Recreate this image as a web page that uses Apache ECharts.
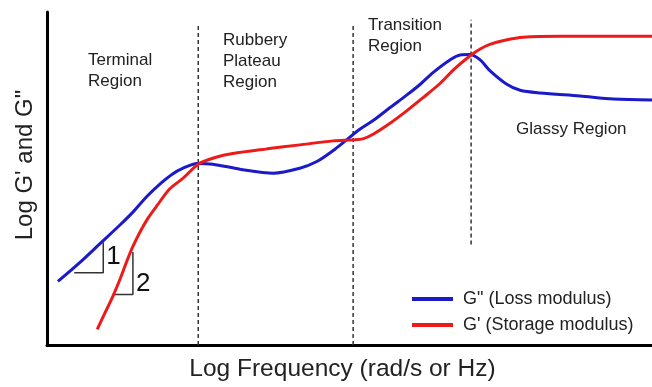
<!DOCTYPE html>
<html>
<head>
<meta charset="utf-8">
<script src="https://cdn.jsdelivr.net/npm/echarts@6/dist/echarts.min.js"></script>
<style>
  html, body { margin: 0; padding: 0; background: #fff; }
  #chart { width: 652px; height: 387px; }
</style>
</head>
<body>
<div id="chart"></div>
<script>
// Log frequency on x, log modulus on y (arbitrary decades)
const lossFreq = [0.18, 0.55, 0.88, 1.21, 1.42, 1.65, 1.87, 2.07, 2.25, 2.48, 2.74, 3.19, 3.74, 4.18, 4.46,
  4.73, 4.93, 5.17, 5.39, 5.67, 5.95, 6.17, 6.38, 6.66, 6.83, 6.99, 7.16, 7.32, 7.60, 7.82, 8.15, 8.81, 9.36, 10.0];
const lossModulus = [1.91, 2.49, 3.05, 3.61, 3.99, 4.46, 4.84, 5.13, 5.31, 5.45, 5.43, 5.28, 5.16, 5.31, 5.51,
  5.84, 6.13, 6.48, 6.74, 7.13, 7.51, 7.83, 8.18, 8.56, 8.71, 8.72, 8.56, 8.24, 7.83, 7.65, 7.57, 7.48, 7.39, 7.36];

const storageFreq = [0.83, 0.96, 1.09, 1.21, 1.32, 1.42, 1.54, 1.67, 1.82, 2.03, 2.25, 2.50, 2.78, 3.07, 3.64,
  4.18, 4.73, 5.06, 5.22, 5.39, 5.67, 5.95, 6.21, 6.50, 6.74, 6.99, 7.16, 7.32, 7.57, 7.87, 8.48, 10.0];
const storageModulus = [0.47, 0.97, 1.47, 1.99, 2.52, 2.96, 3.40, 3.81, 4.19, 4.69, 5.01, 5.43, 5.63, 5.75, 5.89,
  6.01, 6.13, 6.16, 6.19, 6.33, 6.66, 7.04, 7.42, 7.86, 8.30, 8.68, 8.89, 9.03, 9.15, 9.24, 9.27, 9.27];

// Region boundaries (dashed verticals)
const boundaryFreq = [2.50, 5.06, 7.01];
const boundaryTop = [9.65, 9.62, 9.77];
const boundaryBottom = [0, 0, 3.02];

// Slope guides: terminal-zone slopes of 1 (G") and 2 (G')
const slopeOneFreq = [0.45, 0.93, 0.93];
const slopeOneLog = [2.17, 2.17, 3.08];
const slopeTwoFreq = [1.09, 1.42, 1.42];
const slopeTwoLog = [1.52, 1.52, 2.79];
const slopeText = ['1', '2'];
const slopeTextFreq = [0.93, 1.42];
const slopeTextLog = [2.64, 1.85];

const regionLabels = ['Terminal\nRegion', 'Rubbery\nPlateau\nRegion', 'Transition\nRegion', 'Glassy Region'];
const lossName = 'G" (Loss modulus)';
const storageName = "G' (Storage modulus)";

const FONT = '"Liberation Sans", Arial, sans-serif';
const TEXT = '#222';
const zip = (xs, ys) => xs.map((x, i) => [x, ys[i]]);

const chart = echarts.init(document.getElementById('chart'));

const boundarySeries = boundaryFreq.map((x, i) => ({
  type: 'line',
  data: [[x, boundaryBottom[i]], [x, boundaryTop[i]]],
  showSymbol: false,
  silent: true,
  lineStyle: { color: '#333', width: 1.5, type: [4, 3] },
  z: 1
}));

const guideStyle = { color: '#333', width: 1.5 };

const option = {
  animation: false,
  backgroundColor: '#fff',
  grid: { left: 47, right: 0, top: 12, bottom: 34 },
  xAxis: {
    type: 'value', min: 0, max: 10,
    name: 'Log Frequency (rad/s or Hz)',
    nameLocation: 'middle', nameGap: 12,
    nameTextStyle: { fontFamily: FONT, fontSize: 24.5, color: TEXT, verticalAlign: 'top', padding: [0, 14, 0, 0] },
    axisLine: { show: true, onZero: false, lineStyle: { color: '#000', width: 3 } },
    axisTick: { show: false }, axisLabel: { show: false }, splitLine: { show: false }
  },
  yAxis: {
    type: 'value', min: 0, max: 10,
    name: "Log G' and G\"",
    nameLocation: 'middle', nameGap: 10,
    nameTextStyle: { fontFamily: FONT, fontSize: 24, color: TEXT, padding: [0, 0, 0, 27] },
    axisLine: { show: true, onZero: false, lineStyle: { color: '#000', width: 3 } },
    axisTick: { show: false }, axisLabel: { show: false }, splitLine: { show: false }
  },
  legend: {
    data: [lossName, storageName],
    orient: 'vertical',
    left: 407, top: 284,
    icon: 'rect',
    itemWidth: 41, itemHeight: 4,
    itemGap: 6,
    selectedMode: false,
    textStyle: { fontFamily: FONT, fontSize: 18, color: TEXT, lineHeight: 20, padding: [0, 0, 0, 5] }
  },
  graphic: [
    { type: 'text', left: 88, top: 50, style: { text: regionLabels[0], font: '17px ' + FONT, fill: TEXT, lineHeight: 21 } },
    { type: 'text', left: 223, top: 30, style: { text: regionLabels[1], font: '17px ' + FONT, fill: TEXT, lineHeight: 21 } },
    { type: 'text', left: 368, top: 15, style: { text: regionLabels[2], font: '17px ' + FONT, fill: TEXT, lineHeight: 21 } },
    { type: 'text', left: 516, top: 121, style: { text: regionLabels[3], font: '17px ' + FONT, fill: TEXT } }
  ],
  series: [
    ...boundarySeries,
    {
      type: 'line', silent: true, showSymbol: false, z: 2,
      data: zip(slopeOneFreq, slopeOneLog), lineStyle: guideStyle
    },
    {
      type: 'line', silent: true, showSymbol: false, z: 2,
      data: zip(slopeTwoFreq, slopeTwoLog), lineStyle: guideStyle
    },
    {
      type: 'scatter', silent: true, symbolSize: 0, z: 3,
      itemStyle: { opacity: 1 },
      data: slopeText.map((t, i) => ({ value: [slopeTextFreq[i], slopeTextLog[i]], name: t })),
      label: {
        show: true, position: 'right', distance: 3,
        formatter: p => p.name,
        fontFamily: FONT, fontSize: 26, color: '#111'
      }
    },
    {
      name: lossName, type: 'line', showSymbol: false, smooth: 0.3, z: 5,
      data: zip(lossFreq, lossModulus),
      color: '#1a1ac8',
      lineStyle: { color: '#1a1ac8', width: 3 }
    },
    {
      name: storageName, type: 'line', showSymbol: false, smooth: 0.3, z: 6,
      data: zip(storageFreq, storageModulus),
      color: '#ee1a1a',
      lineStyle: { color: '#ee1a1a', width: 3 }
    }
  ]
};

chart.setOption(option);
</script>
</body>
</html>
